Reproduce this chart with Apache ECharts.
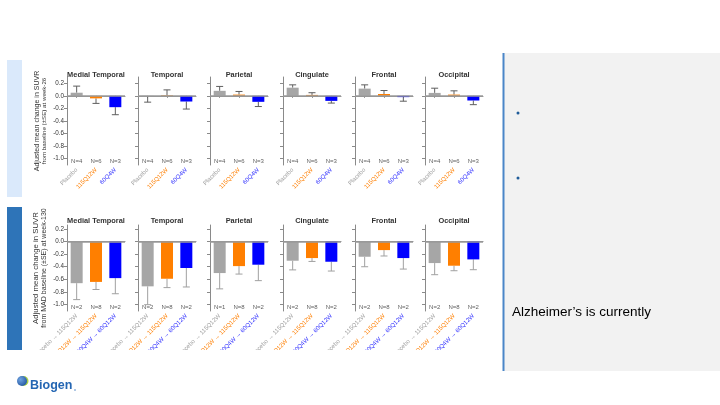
<!DOCTYPE html>
<html><head><meta charset="utf-8">
<script src="https://cdn.jsdelivr.net/npm/echarts@6/dist/echarts.min.js"></script>
<style>html,body{margin:0;padding:0;background:#fff}#c{width:720px;height:405px}</style>
</head><body><div id="c"></div>
<script>
// ---------- data ----------
const regions = ['Medial Temporal', 'Temporal', 'Parietal', 'Cingulate', 'Frontal', 'Occipital'];
const groupsWeek26 = ['Placebo', '115Q12W', '60Q4W'];
const groupsWeek130 = ['Placebo \u2192 115Q12W', '115Q12W \u2192 115Q12W', '60Q4W \u2192 60Q12W'];
const yTickValues = [-1.0, -0.8, -0.6, -0.4, -0.2, 0.0, 0.2];

// week-26 (mean change, SE) per region
const w26Placebo   = [0.05, -0.005, 0.08, 0.13, 0.115, 0.047];
const w26PlaceboSE = [0.105, 0.095, 0.07, 0.045, 0.06, 0.075];
const w26Q12W      = [-0.04, 0.01, 0.02, 0.015, 0.03, 0.02];
const w26Q12WSE    = [0.08, 0.085, 0.05, 0.035, 0.055, 0.06];
const w26Q4W       = [-0.18, -0.09, -0.095, -0.08, -0.02, -0.074];
const w26Q4WSE     = [0.12, 0.12, 0.075, 0.035, 0.065, 0.066];
const w26N = [[4, 6, 3], [4, 6, 3], [4, 6, 3], [4, 6, 3], [4, 6, 3], [4, 6, 3]];

// week-130
const w130Placebo   = [-0.66, -0.71, -0.50, -0.305, -0.242, -0.342];
const w130PlaceboSE = [0.26, 0.29, 0.25, 0.145, 0.158, 0.184];
const w130Q12W      = [-0.64, -0.59, -0.39, -0.263, -0.137, -0.384];
const w130Q12WSE    = [0.12, 0.14, 0.126, 0.053, 0.093, 0.079];
const w130Q4W       = [-0.58, -0.42, -0.368, -0.321, -0.263, -0.284];
const w130Q4WSE     = [0.247, 0.30, 0.252, 0.147, 0.174, 0.163];
const w130N = [[2, 8, 2], [2, 8, 2], [1, 8, 2], [2, 8, 2], [2, 8, 2], [2, 8, 2]];

// ---------- styling / layout ----------
const groupColors = ['#a6a6a6', '#ff7f00', '#0000ff'];
const labelColors = ['#a0a0a0', '#ff7f00', '#3030ff'];
const gridLefts = [67, 138, 210, 283, 355, 425];
const gridW = 58;
const FONT = 'Liberation Sans, Arial, sans-serif';

const rows = [
  { top: 77, height: 88, min: -1.1, max: 0.3, groups: groupsWeek26,
    means: [w26Placebo, w26Q12W, w26Q4W], ses: [w26PlaceboSE, w26Q12WSE, w26Q4WSE], ns: w26N,
    nY: -1.035, errColor: '#5e5e5e', titleY: 75,
    name: '{a|Adjusted mean change in SUVR}\n{b|from baseline (\u00b1SE) at week-26}',
    rich: { a: { fontSize: 7, color: '#333', fontFamily: FONT, lineHeight: 8 }, b: { fontSize: 6.2, color: '#333', fontFamily: FONT, lineHeight: 7 } } },
  { top: 225, height: 86, min: -1.1, max: 0.26, groups: groupsWeek130,
    means: [w130Placebo, w130Q12W, w130Q4W], ses: [w130PlaceboSE, w130Q12WSE, w130Q4WSE], ns: w130N,
    nY: -1.05, errColor: '#a0a0a0', titleY: 221,
    name: '{a|Adjusted mean change in SUVR}\n{b|from MAD baseline (\u00b1SE) at week-130}',
    rich: { a: { fontSize: 7.8, color: '#333', fontFamily: FONT, lineHeight: 8.5 }, b: { fontSize: 7, color: '#333', fontFamily: FONT, lineHeight: 8 } } }
];

const grid = [], xAxis = [], yAxis = [], series = [], graphic = [];
let gi = 0;
rows.forEach((row, ri) => {
  regions.forEach((reg, r) => {
    grid.push({ left: gridLefts[r], top: row.top, width: gridW, height: row.height });
    xAxis.push({
      gridIndex: gi, type: 'category', data: row.groups,
      axisLine: { lineStyle: { color: '#8a8a8a', width: 1 } },
      axisTick: { show: true, alignWithLabel: true, length: 2, lineStyle: { color: '#8a8a8a' } },
      axisLabel: { rotate: 45, fontSize: 6, margin: 4, fontFamily: FONT, interval: 0,
        overflow: 'none', width: 300, hideOverlap: false,
        color: (v, idx) => labelColors[idx] }
    });
    const y = {
      gridIndex: gi, type: 'value', min: row.min, max: row.max,
      splitLine: { show: false },
      axisLine: { show: true, lineStyle: { color: '#8a8a8a', width: 1 } },
      axisTick: { show: true, length: 3, customValues: yTickValues, lineStyle: { color: '#8a8a8a' } },
      axisLabel: { show: r === 0, customValues: yTickValues, fontSize: 6.3, margin: 3, color: '#333', fontFamily: FONT,
        formatter: v => v.toFixed(1) }
    };
    if (r === 0) {
      y.name = row.name; y.nameLocation = 'middle'; y.nameRotate = 90; y.nameGap = 19;
      y.nameTextStyle = { rich: row.rich, align: 'center' };
    }
    yAxis.push(y);

    series.push({
      type: 'bar', xAxisIndex: gi, yAxisIndex: gi, barWidth: 12, z: 3,
      data: row.groups.map((g, j) => ({ value: row.means[j][r], itemStyle: { color: groupColors[j] } })),
      markLine: { silent: true, symbol: 'none', label: { show: false },
        lineStyle: { color: '#9a9a9a', width: 1.5, type: 'solid' }, data: [{ yAxis: 0 }] }
    });
    const errColor = row.errColor;
    series.push({
      type: 'custom', xAxisIndex: gi, yAxisIndex: gi, z: 2,
      data: row.groups.map((g, j) => [j, row.means[j][r], row.ses[j][r]]),
      encode: { x: 0, y: 1 },
      renderItem: (params, api) => {
        const x = api.value(0), m = api.value(1), s = api.value(2);
        const end = m >= 0 ? m + s : m - s;
        const p0 = api.coord([x, m]), p1 = api.coord([x, end]);
        const hw = 3.5;
        return { type: 'group', children: [
          { type: 'line', shape: { x1: p0[0], y1: p0[1], x2: p1[0], y2: p1[1] }, style: { stroke: errColor, lineWidth: 1 } },
          { type: 'line', shape: { x1: p1[0] - hw, y1: p1[1], x2: p1[0] + hw, y2: p1[1] }, style: { stroke: errColor, lineWidth: 1 } }
        ] };
      }
    });
    const nArr = row.ns[r];
    series.push({
      type: 'scatter', xAxisIndex: gi, yAxisIndex: gi, symbolSize: 0, z: 4,
      data: row.groups.map((g, j) => [j, row.nY]),
      label: { show: true, position: 'inside', fontSize: 6, color: '#333', fontFamily: FONT,
        formatter: p => 'N=' + nArr[p.dataIndex] }
    });
    graphic.push({ type: 'text', x: gridLefts[r] + gridW / 2, y: row.titleY, z: 10,
      style: { text: reg, fontSize: 7.4, fontWeight: 'bold', fill: '#333', fontFamily: FONT, align: 'center', verticalAlign: 'middle' } });
    gi++;
  });
});

// slide decorations
graphic.push(
  { type: 'rect', shape: { x: 7, y: 60, width: 15, height: 137 }, style: { fill: '#dae9fb' }, z: 0 },
  { type: 'rect', shape: { x: 7, y: 207, width: 15, height: 143 }, style: { fill: '#2e74b8' }, z: 0 },
  { type: 'rect', shape: { x: 504, y: 53, width: 216, height: 318 }, style: { fill: '#f2f2f2' }, z: 0 },
  { type: 'line', shape: { x1: 503.5, y1: 53, x2: 503.5, y2: 371 }, style: { stroke: '#4a86c8', lineWidth: 2 }, z: 1 },
  { type: 'circle', shape: { cx: 518, cy: 113, r: 1.5 }, style: { fill: '#1f5c99' }, z: 1 },
  { type: 'circle', shape: { cx: 518, cy: 178, r: 1.5 }, style: { fill: '#1f5c99' }, z: 1 },
  { type: 'text', x: 512, y: 312, z: 1, style: { text: 'Alzheimer\u2019s is currently', fontSize: 13.5, fill: '#000', fontFamily: FONT, verticalAlign: 'middle' } },
  { type: 'rect', shape: { x: 24, y: 350, width: 476, height: 55 }, style: { fill: '#ffffff' }, z: 50 },
  { type: 'circle', shape: { cx: 23.5, cy: 381, r: 5 }, style: { fill: '#a8cf45' }, z: 51 },
  { type: 'circle', shape: { cx: 22, cy: 381, r: 5 }, style: { fill: { type: 'radial', x: 0.35, y: 0.35, r: 0.8,
      colorStops: [{ offset: 0, color: '#6fa3e0' }, { offset: 1, color: '#1b4f9c' }] } }, z: 52 },
  { type: 'text', x: 30, y: 392, z: 52, style: { text: 'Biogen', fontSize: 12.5, fontWeight: 'bold', fill: '#2466b3', fontFamily: FONT, verticalAlign: 'bottom' } },
  { type: 'circle', shape: { cx: 75, cy: 390, r: 0.7 }, style: { fill: '#2466b3' }, z: 52 }
);

const chart = echarts.init(document.getElementById('c'), null, { renderer: 'canvas' });
chart.setOption({ animation: false, backgroundColor: '#ffffff', grid, xAxis, yAxis, series, graphic });
</script>
</body></html>
